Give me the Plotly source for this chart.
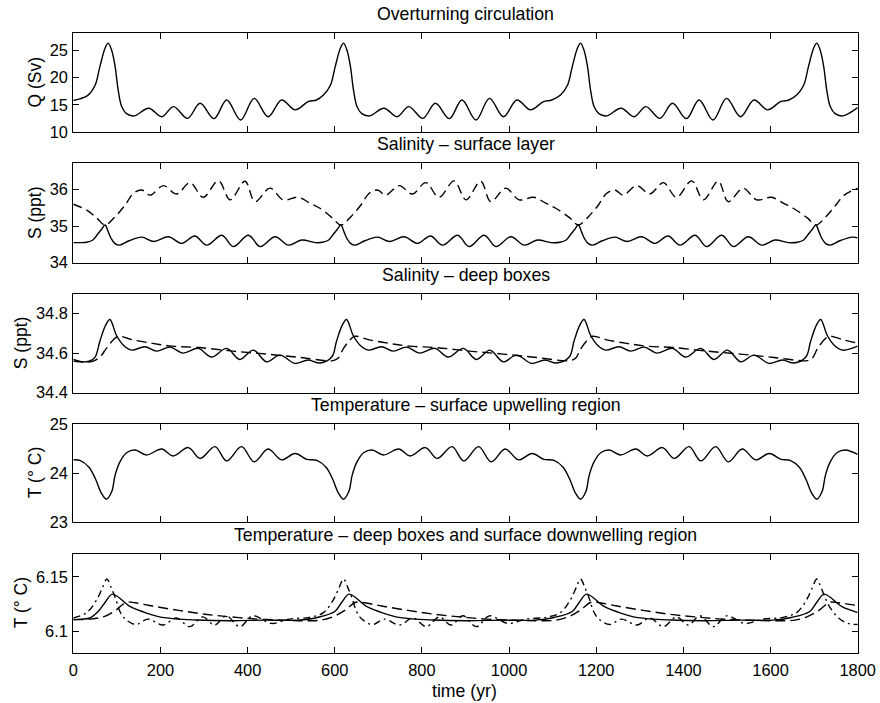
import plotly.graph_objects as go

# ---------------- Panel 1: overturning circulation Q (Sv) ----------------
q_t = [0, 15, 34, 50, 61, 73, 80, 88, 96, 103, 111, 122, 140, 173, 203, 230, 262, 291, 323, 352, 384, 415, 447, 478, 509, 539, 558,
       574, 590, 601, 613, 620, 628, 636, 643, 651, 662, 680, 713, 743, 770, 802, 831, 863, 892, 924, 955, 987, 1018, 1049, 1079, 1098,
       1118, 1134, 1145, 1157, 1164, 1172, 1180, 1187, 1195, 1206, 1224, 1257, 1287, 1314, 1346, 1375, 1407, 1436, 1468, 1499, 1531, 1562, 1593, 1623, 1642,
       1660, 1676, 1687, 1699, 1706, 1714, 1722, 1729, 1737, 1748, 1766, 1800]
q_v = [15.8, 16.1, 16.8, 18.6, 22.0, 25.4, 26.3, 25.0, 22.0, 17.7, 14.7, 13.4, 13.0, 14.4, 12.85, 14.7, 12.55, 15.3, 12.5, 15.9, 12.25, 16.2, 12.85, 15.9, 14.1, 15.6, 15.9,
       16.8, 18.6, 22.0, 25.4, 26.3, 25.0, 22.0, 17.7, 14.7, 13.4, 13.0, 14.4, 12.85, 14.7, 12.55, 15.3, 12.5, 15.9, 12.25, 16.2, 12.85, 15.9, 14.1, 15.6, 15.9,
       16.8, 18.6, 22.0, 25.4, 26.3, 25.0, 22.0, 17.7, 14.7, 13.4, 13.0, 14.4, 12.85, 14.7, 12.55, 15.3, 12.5, 15.9, 12.25, 16.2, 12.85, 15.9, 14.1, 15.6, 15.9,
       16.8, 18.6, 22.0, 25.4, 26.3, 25.0, 22.0, 17.7, 14.7, 13.4, 13.0, 14.5]

# ---------------- Panel 2: salinity, surface layer ----------------
ss1_t = [0, 15, 31, 45, 54, 64, 73, 80, 87, 95, 106, 128, 157, 185, 218, 249, 279, 306, 341, 367, 402, 429, 463, 494, 524, 555,
         572, 586, 595, 605, 614, 621, 628, 636, 647, 669, 698, 726, 759, 790, 820, 847, 882, 908, 943, 970, 1004, 1035, 1065, 1096,
         1117, 1131, 1140, 1150, 1159, 1166, 1173, 1181, 1192, 1214, 1243, 1271, 1304, 1335, 1365, 1392, 1427, 1453, 1488, 1515, 1549, 1580, 1610, 1641,
         1662, 1676, 1685, 1695, 1704, 1711, 1718, 1726, 1737, 1759, 1788, 1800]
ss1_v = [34.55, 34.55, 34.56, 34.62, 34.75, 34.9, 35.03, 34.85, 34.66, 34.53, 34.48, 34.6, 34.7, 34.58, 34.71, 34.53, 34.73, 34.48, 34.75, 34.44, 34.75, 34.44, 34.71, 34.48, 34.62, 34.55,
         34.56, 34.62, 34.75, 34.9, 35.03, 34.85, 34.66, 34.53, 34.48, 34.6, 34.7, 34.58, 34.71, 34.53, 34.73, 34.48, 34.75, 34.44, 34.75, 34.44, 34.71, 34.48, 34.62, 34.55,
         34.56, 34.62, 34.75, 34.9, 35.03, 34.85, 34.66, 34.53, 34.48, 34.6, 34.7, 34.58, 34.71, 34.53, 34.73, 34.48, 34.75, 34.44, 34.75, 34.44, 34.71, 34.48, 34.62, 34.55,
         34.56, 34.62, 34.75, 34.9, 35.03, 34.85, 34.66, 34.53, 34.48, 34.6, 34.7, 34.68]
ss2_t = [0, 31, 54, 73, 96, 119, 138, 157, 176, 207, 237, 268, 298, 333, 360, 394, 417, 451, 482, 516, 543, 566,
         595, 614, 637, 660, 679, 698, 717, 748, 778, 809, 839, 874, 901, 935, 958, 992, 1023, 1057, 1084, 1107,
         1140, 1159, 1182, 1205, 1224, 1243, 1262, 1293, 1323, 1354, 1384, 1419, 1446, 1480, 1503, 1537, 1568, 1602, 1629, 1652,
         1685, 1704, 1727, 1750, 1769, 1800]
ss2_v = [35.6, 35.44, 35.22, 35.03, 35.26, 35.58, 35.9, 35.99, 35.85, 36.11, 35.88, 36.19, 35.79, 36.24, 35.72, 36.23, 35.67, 36.04, 35.72, 35.79, 35.63, 35.49,
         35.22, 35.03, 35.26, 35.58, 35.9, 35.99, 35.85, 36.11, 35.88, 36.19, 35.79, 36.24, 35.72, 36.23, 35.67, 36.04, 35.72, 35.79, 35.63, 35.49,
         35.22, 35.03, 35.26, 35.58, 35.9, 35.99, 35.85, 36.11, 35.88, 36.19, 35.79, 36.24, 35.72, 36.23, 35.67, 36.04, 35.72, 35.79, 35.63, 35.49,
         35.22, 35.03, 35.26, 35.58, 35.85, 36.04]

# ---------------- Panel 3: salinity, deep boxes ----------------
sd1_t = [0, 23, 38, 50, 61, 74, 84, 99, 115, 134, 164, 191, 222, 252, 287, 317, 352, 382, 413, 444, 474, 509, 539, 566,
         593, 604, 617, 627, 642, 658, 677, 707, 734, 765, 795, 830, 860, 895, 925, 956, 987, 1017, 1052, 1082, 1109,
         1138, 1149, 1162, 1172, 1187, 1203, 1222, 1252, 1279, 1310, 1340, 1375, 1405, 1440, 1470, 1501, 1532, 1562, 1597, 1627, 1654,
         1681, 1692, 1705, 1715, 1730, 1746, 1765, 1800]
sd1_v = [34.568, 34.556, 34.56, 34.58, 34.66, 34.74, 34.77, 34.69, 34.64, 34.615, 34.632, 34.61, 34.63, 34.60, 34.624, 34.58, 34.624, 34.568, 34.615, 34.556, 34.59, 34.548, 34.565, 34.55,
         34.58, 34.66, 34.74, 34.77, 34.69, 34.64, 34.615, 34.632, 34.61, 34.63, 34.60, 34.624, 34.58, 34.624, 34.568, 34.615, 34.556, 34.59, 34.548, 34.565, 34.55,
         34.58, 34.66, 34.74, 34.77, 34.69, 34.64, 34.615, 34.632, 34.61, 34.63, 34.60, 34.624, 34.58, 34.624, 34.568, 34.615, 34.556, 34.59, 34.548, 34.565, 34.55,
         34.58, 34.66, 34.74, 34.77, 34.69, 34.64, 34.615, 34.635]
sd2_t = [0, 23, 44, 61, 76, 92, 103, 136, 182, 228, 289, 366, 443, 520, 596,
         608, 619, 635, 646, 679, 725, 771, 832, 909, 986, 1063, 1139,
         1153, 1164, 1180, 1191, 1224, 1270, 1316, 1377, 1454, 1531, 1608, 1684,
         1696, 1707, 1723, 1734, 1767, 1800]
sd2_v = [34.56, 34.555, 34.558, 34.58, 34.624, 34.667, 34.685, 34.667, 34.649, 34.635, 34.628, 34.61, 34.595, 34.578, 34.562,
         34.575, 34.62, 34.667, 34.685, 34.667, 34.649, 34.635, 34.628, 34.61, 34.595, 34.578, 34.562,
         34.575, 34.62, 34.667, 34.685, 34.667, 34.649, 34.635, 34.628, 34.61, 34.595, 34.578, 34.562,
         34.575, 34.62, 34.667, 34.685, 34.667, 34.65]

# ---------------- Panel 4: temperature, surface upwelling region ----------------
tu_t = [0, 15, 36, 51, 64, 76, 88, 96, 107, 123, 142, 168, 203, 229, 264, 291, 325, 352, 386, 415, 447, 478, 509, 536, 559,
        580, 595, 608, 620, 632, 640, 651, 667, 686, 712, 747, 773, 808, 835, 869, 896, 930, 959, 991, 1022, 1053, 1080, 1103,
        1124, 1139, 1152, 1164, 1176, 1184, 1195, 1211, 1230, 1256, 1291, 1317, 1352, 1379, 1413, 1440, 1474, 1503, 1535, 1566, 1597, 1624, 1645,
        1666, 1681, 1694, 1706, 1718, 1726, 1737, 1753, 1772, 1800]
tu_v = [24.27, 24.26, 24.12, 23.88, 23.6, 23.47, 23.62, 23.96, 24.23, 24.42, 24.47, 24.37, 24.49, 24.35, 24.52, 24.30, 24.54, 24.25, 24.54, 24.23, 24.49, 24.27, 24.40, 24.28, 24.26,
        24.12, 23.88, 23.6, 23.47, 23.62, 23.96, 24.23, 24.42, 24.47, 24.37, 24.49, 24.35, 24.52, 24.30, 24.54, 24.25, 24.54, 24.23, 24.49, 24.27, 24.40, 24.28, 24.26,
        24.12, 23.88, 23.6, 23.47, 23.62, 23.96, 24.23, 24.42, 24.47, 24.37, 24.49, 24.35, 24.52, 24.30, 24.54, 24.25, 24.54, 24.23, 24.49, 24.27, 24.40, 24.28, 24.26,
        24.12, 23.88, 23.6, 23.47, 23.62, 23.96, 24.23, 24.42, 24.47, 24.38]

# ---------------- Panel 5: temperature, deep boxes and downwelling region ----------------
td1_t = [0, 20, 38, 57, 74, 90, 131, 170, 208, 285, 361, 440, 515, 560,
         600, 617, 633, 674, 713, 751, 828, 904, 983, 1058, 1103,
         1145, 1162, 1178, 1219, 1258, 1296, 1373, 1449, 1528, 1603, 1648,
         1690, 1707, 1723, 1764, 1800]
td1_v = [6.1105, 6.111, 6.112, 6.118, 6.127, 6.134, 6.1224, 6.1163, 6.1123, 6.1101, 6.1095, 6.110, 6.110, 6.1125,
         6.118, 6.127, 6.134, 6.1224, 6.1163, 6.1123, 6.1101, 6.1095, 6.110, 6.110, 6.1125,
         6.118, 6.127, 6.134, 6.1224, 6.1163, 6.1123, 6.1101, 6.1095, 6.110, 6.110, 6.1125,
         6.118, 6.127, 6.134, 6.1224, 6.117]
td2_t = [0, 40, 72, 97, 122, 142, 182, 242, 302, 362, 422, 482, 530,
         568, 598, 623, 648, 668, 708, 768, 828, 888, 948, 1008, 1060,
         1108, 1138, 1163, 1188, 1208, 1248, 1308, 1368, 1428, 1488, 1548, 1610,
         1656, 1686, 1711, 1736, 1756, 1800]
td2_v = [6.1105, 6.111, 6.1135, 6.119, 6.1265, 6.126, 6.123, 6.119, 6.1155, 6.113, 6.111, 6.110, 6.1095,
         6.110, 6.1135, 6.119, 6.1265, 6.126, 6.123, 6.119, 6.1155, 6.113, 6.111, 6.110, 6.1095,
         6.110, 6.1135, 6.119, 6.1265, 6.126, 6.123, 6.119, 6.1155, 6.113, 6.111, 6.110, 6.1095,
         6.110, 6.1135, 6.119, 6.1265, 6.126, 6.1235]
td3_t = [0, 31, 54, 67, 77, 87, 97, 107, 119, 144, 171, 206, 236, 267, 297, 324, 351, 382, 412, 454, 496, 542,
         574, 597, 610, 620, 630, 640, 650, 662, 687, 714, 749, 779, 810, 840, 867, 894, 925, 955, 997, 1039, 1085,
         1118, 1141, 1154, 1164, 1174, 1184, 1194, 1206, 1231, 1258, 1293, 1323, 1354, 1384, 1411, 1438, 1469, 1499, 1541, 1583, 1629,
         1660, 1683, 1696, 1706, 1716, 1726, 1736, 1756, 1778, 1800]
td3_v = [6.112, 6.117, 6.129, 6.140, 6.148, 6.140, 6.130, 6.118, 6.111, 6.106, 6.111, 6.1055, 6.112, 6.104, 6.113, 6.1055, 6.114, 6.104, 6.114, 6.107, 6.111, 6.1126,
         6.117, 6.129, 6.140, 6.148, 6.140, 6.130, 6.118, 6.111, 6.106, 6.111, 6.1055, 6.112, 6.104, 6.113, 6.1055, 6.114, 6.104, 6.114, 6.107, 6.111, 6.1126,
         6.117, 6.129, 6.140, 6.148, 6.140, 6.130, 6.118, 6.111, 6.106, 6.111, 6.1055, 6.112, 6.104, 6.113, 6.1055, 6.114, 6.104, 6.114, 6.107, 6.111, 6.1126,
         6.117, 6.129, 6.140, 6.148, 6.140, 6.130, 6.122, 6.112, 6.107, 6.106]

titles = ["Overturning circulation", "Salinity \u2013 surface layer", "Salinity \u2013 deep boxes",
          "Temperature \u2013 surface upwelling region",
          "Temperature \u2013 deep boxes and surface downwelling region"]
ylabels = ["Q (Sv)", "S (ppt)", "S (ppt)", "T (\u00b0 C)", "T (\u00b0 C)"]
x_ticks = [0, 200, 400, 600, 800, 1000, 1200, 1400, 1600, 1800]
y_ticks = [[10, 15, 20, 25], [34, 35, 36], [34.4, 34.6, 34.8], [23, 24, 25], [6.1, 6.15]]
y_ticktext = [["10", "15", "20", "25"], ["34", "35", "36"], ["34.4", "34.6", "34.8"], ["23", "24", "25"], ["6.1", "6.15"]]
y_ranges = [[10, 28.2], [34, 36.72], [34.4, 34.9], [23, 25], [6.08, 6.171]]

# ---- layout geometry in picture pixels ----
W, H = 896, 712
FONT = "Liberation Sans, Arial, Helvetica, sans-serif"
x_left, x_right = 73.3, 857.7
panel_px = [(32.7, 132.3), (163.3, 262.7), (293.7, 392.7), (424.0, 522.3), (554.0, 652.7)]
title_y = [14, 144, 275, 405, 535]
ylab_x = [35, 35, 21, 35, 21]

series = [
    (1, q_t, q_v, "solid"),
    (2, ss1_t, ss1_v, "solid"),
    (2, ss2_t, ss2_v, "9px,5px"),
    (3, sd1_t, sd1_v, "solid"),
    (3, sd2_t, sd2_v, "10px,5px"),
    (4, tu_t, tu_v, "solid"),
    (5, td1_t, td1_v, "solid"),
    (5, td2_t, td2_v, "10px,5px"),
    (5, td3_t, td3_v, "7px,4px,2px,4px"),
]

fig = go.Figure()
for k, t, v, dash in series:
    sfx = "" if k == 1 else str(k)
    fig.add_trace(go.Scatter(x=t, y=v, mode="lines", xaxis="x" + sfx, yaxis="y" + sfx,
                             line=dict(color="black", width=1.4, dash=dash, shape="spline", smoothing=1.0),
                             showlegend=False, hoverinfo="skip"))

layout = dict(width=W, height=H, margin=dict(l=0, r=0, t=0, b=0, autoexpand=False),
              paper_bgcolor="white", plot_bgcolor="white",
              font=dict(family=FONT, size=16, color="black"), annotations=[])
xdom = [x_left / W, x_right / W]
for i in range(5):
    k = i + 1
    sfx = "" if k == 1 else str(k)
    top, bot = panel_px[i]
    layout["xaxis" + sfx] = dict(domain=xdom, anchor="y" + sfx, range=[0, 1800],
                                 tickvals=x_ticks, showticklabels=(k == 5),
                                 ticks="inside", ticklen=6, tickwidth=1, tickcolor="black",
                                 showline=True, linecolor="black", linewidth=1.2, mirror="ticks",
                                 showgrid=False, zeroline=False, ticklabeloverflow="allow",
                                 ticklabelstandoff=3,
                                 tickfont=dict(family=FONT, size=16.4, color="black"))
    layout["yaxis" + sfx] = dict(domain=[1 - bot / H, 1 - top / H], anchor="x" + sfx,
                                 range=y_ranges[i], tickvals=y_ticks[i], ticktext=y_ticktext[i],
                                 ticks="inside", ticklen=6, tickwidth=1, tickcolor="black",
                                 showline=True, linecolor="black", linewidth=1.2, mirror="ticks",
                                 showgrid=False, zeroline=False, ticklabeloverflow="allow",
                                 ticklabelstandoff=1,
                                 tickfont=dict(family=FONT, size=16.4, color="black"))
    layout["annotations"].append(dict(text=titles[i], xref="paper", yref="paper",
                                      x=(x_left + x_right) / 2 / W, y=1 - title_y[i] / H,
                                      xanchor="center", yanchor="middle", showarrow=False,
                                      font=dict(family=FONT, size=17.7, color="black")))
    layout["annotations"].append(dict(text=ylabels[i], xref="paper", yref="paper",
                                      x=ylab_x[i] / W, y=1 - (top + bot) / 2 / H, textangle=-90,
                                      xanchor="center", yanchor="middle", showarrow=False,
                                      font=dict(family=FONT, size=17.5, color="black")))
layout["annotations"].append(dict(text="time (yr)", xref="paper", yref="paper",
                                  x=464 / W, y=1 - 690.7 / H, xanchor="center", yanchor="middle",
                                  showarrow=False, font=dict(family=FONT, size=17.7, color="black")))
fig.update_layout(**layout)

# place the graph at the page corner (no default body margin)
page_css = ("document.documentElement.style.margin='0';document.documentElement.style.padding='0';"
            "document.body.style.margin='0';document.body.style.padding='0';")
fig.write_html("out.html", post_script=page_css, config=dict(displayModeBar=False))
